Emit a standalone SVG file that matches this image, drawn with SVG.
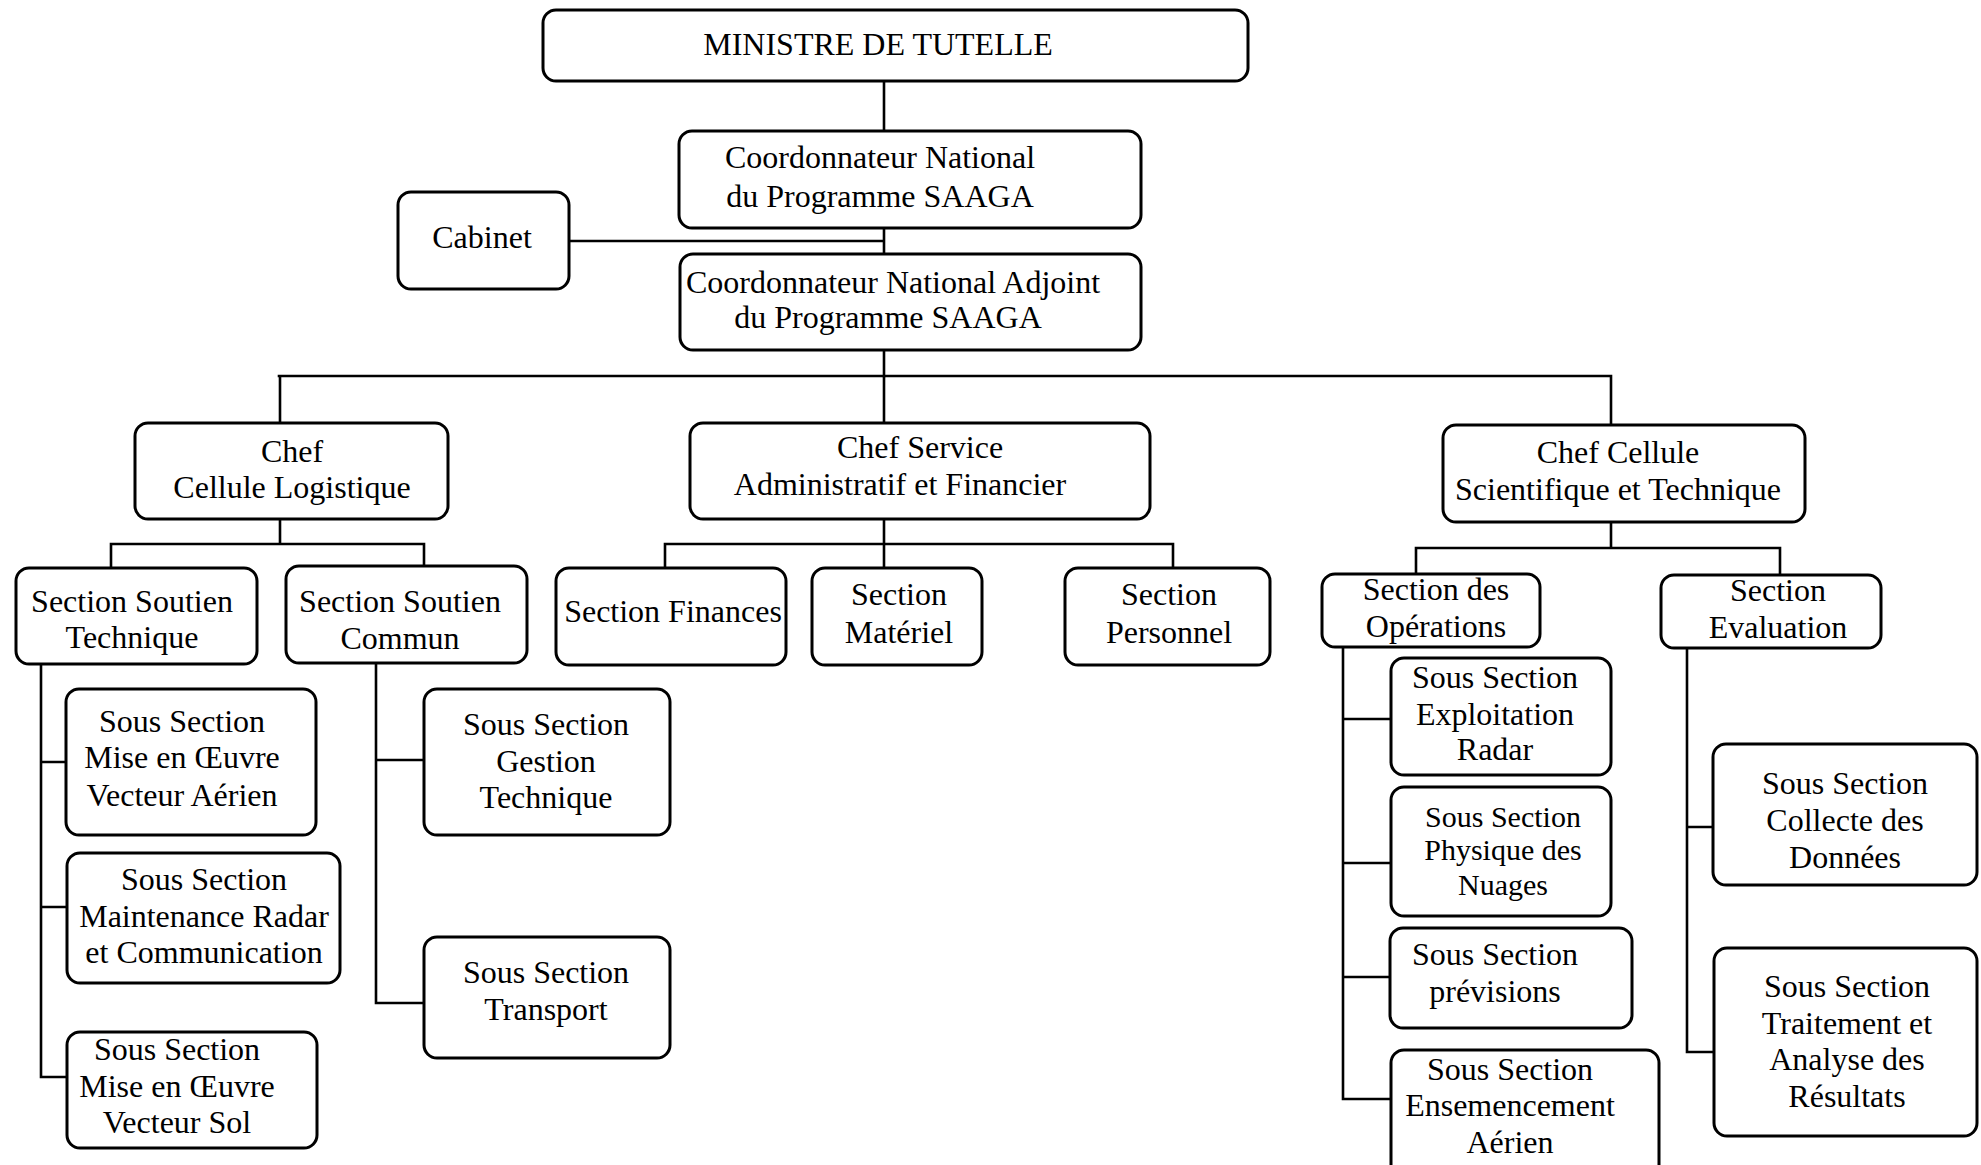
<svg xmlns="http://www.w3.org/2000/svg" width="1981" height="1165" viewBox="0 0 1981 1165">
  <style>
    .box { fill: #fff; stroke: #000; stroke-width: 3; }
    .ln { fill: none; stroke: #000; stroke-width: 2.6; stroke-linecap: square; }
    text { font-family: "Liberation Serif", "Times New Roman", serif; font-size: 32px; fill: #000; text-anchor: middle; }
    .sm { font-size: 30px; }
  </style>
  <rect width="1981" height="1165" fill="#fff"/>

  <!-- connectors -->
  <g id="connectors">
    <path class="ln" d="M884 81 V131 M884 228 V254 M569 241 H884 M884 350 V376"/>
    <path class="ln" d="M279 376 H1611 M280 376 V423 M884 376 V423 M1611 376 V425"/>
    <!-- logistics branch -->
    <path class="ln" d="M280 519 V544 M111 544 H424 M111 544 V568 M424 544 V566"/>
    <path class="ln" d="M41 664 V1077 M41 762 H66 M41 907 H67 M41 1077 H67"/>
    <path class="ln" d="M376 663 V1003 M376 760 H424 M376 1003 H424"/>
    <!-- admin & finance branch -->
    <path class="ln" d="M884 519 V568 M665 544 H1173 M665 544 V568 M1173 544 V568"/>
    <!-- scientific & technical branch -->
    <path class="ln" d="M1611 522 V548 M1416 548 H1780 M1416 548 V574 M1780 548 V575"/>
    <path class="ln" d="M1343 647 V1099 M1343 719 H1391 M1343 863 H1391 M1343 977 H1390 M1343 1099 H1391"/>
    <path class="ln" d="M1687 648 V1052 M1687 827 H1713 M1687 1052 H1714"/>
  </g>

  <g id="ministre">
    <rect class="box" x="543" y="10" width="705" height="71" rx="13"/>
    <text x="878" y="55">MINISTRE DE TUTELLE</text>
  </g>
  <g id="coordonnateur">
    <rect class="box" x="679" y="131" width="462" height="97" rx="13"/>
    <text x="880" y="168">Coordonnateur National</text>
    <text x="880" y="207">du Programme SAAGA</text>
  </g>
  <g id="cabinet">
    <rect class="box" x="398" y="192" width="171" height="97" rx="13"/>
    <text x="482" y="248">Cabinet</text>
  </g>
  <g id="adjoint">
    <rect class="box" x="680" y="254" width="461" height="96" rx="13"/>
    <text x="893" y="293">Coordonnateur National Adjoint</text>
    <text x="888" y="328">du Programme SAAGA</text>
  </g>

  <g id="chef-logistique">
    <rect class="box" x="135" y="423" width="313" height="96" rx="13"/>
    <text x="292" y="462">Chef</text>
    <text x="292" y="498">Cellule Logistique</text>
  </g>
  <g id="chef-saf">
    <rect class="box" x="690" y="423" width="460" height="96" rx="13"/>
    <text x="920" y="458">Chef Service</text>
    <text x="900" y="495">Administratif et Financier</text>
  </g>
  <g id="chef-cst">
    <rect class="box" x="1443" y="425" width="362" height="97" rx="13"/>
    <text x="1618" y="463">Chef Cellule</text>
    <text x="1618" y="500">Scientifique et Technique</text>
  </g>

  <g id="section-soutien-technique">
    <rect class="box" x="16" y="568" width="241" height="96" rx="13"/>
    <text x="132" y="612">Section Soutien</text>
    <text x="132" y="648">Technique</text>
  </g>
  <g id="section-soutien-commun">
    <rect class="box" x="286" y="566" width="241" height="97" rx="13"/>
    <text x="400" y="612">Section Soutien</text>
    <text x="400" y="649">Commun</text>
  </g>
  <g id="section-finances">
    <rect class="box" x="556" y="568" width="230" height="97" rx="13"/>
    <text x="673" y="622">Section Finances</text>
  </g>
  <g id="section-materiel">
    <rect class="box" x="812" y="568" width="170" height="97" rx="13"/>
    <text x="899" y="605">Section</text>
    <text x="899" y="643">Matériel</text>
  </g>
  <g id="section-personnel">
    <rect class="box" x="1065" y="568" width="205" height="97" rx="13"/>
    <text x="1169" y="605">Section</text>
    <text x="1169" y="643">Personnel</text>
  </g>
  <g id="section-operations">
    <rect class="box" x="1322" y="574" width="218" height="73" rx="13"/>
    <text x="1436" y="600">Section des</text>
    <text x="1436" y="637">Opérations</text>
  </g>
  <g id="section-evaluation">
    <rect class="box" x="1661" y="575" width="220" height="73" rx="13"/>
    <text x="1778" y="601">Section</text>
    <text x="1778" y="638">Evaluation</text>
  </g>

  <g id="ss-vecteur-aerien">
    <rect class="box" x="66" y="689" width="250" height="146" rx="13"/>
    <text x="182" y="732">Sous Section</text>
    <text x="182" y="768">Mise en Œuvre</text>
    <text x="182" y="806">Vecteur Aérien</text>
  </g>
  <g id="ss-maintenance-radar">
    <rect class="box" x="67" y="853" width="273" height="130" rx="13"/>
    <text x="204" y="890">Sous Section</text>
    <text x="204" y="927">Maintenance Radar</text>
    <text x="204" y="963">et Communication</text>
  </g>
  <g id="ss-vecteur-sol">
    <rect class="box" x="67" y="1032" width="250" height="116" rx="13"/>
    <text x="177" y="1060">Sous Section</text>
    <text x="177" y="1097">Mise en Œuvre</text>
    <text x="177" y="1133">Vecteur Sol</text>
  </g>
  <g id="ss-gestion-technique">
    <rect class="box" x="424" y="689" width="246" height="146" rx="13"/>
    <text x="546" y="735">Sous Section</text>
    <text x="546" y="772">Gestion</text>
    <text x="546" y="808">Technique</text>
  </g>
  <g id="ss-transport">
    <rect class="box" x="424" y="937" width="246" height="121" rx="13"/>
    <text x="546" y="983">Sous Section</text>
    <text x="546" y="1020">Transport</text>
  </g>

  <g id="ss-exploitation-radar">
    <rect class="box" x="1391" y="658" width="220" height="117" rx="13"/>
    <text x="1495" y="688">Sous Section</text>
    <text x="1495" y="725">Exploitation</text>
    <text x="1495" y="760">Radar</text>
  </g>
  <g id="ss-physique-nuages">
    <rect class="box" x="1391" y="787" width="220" height="129" rx="13"/>
    <text class="sm" x="1503" y="827">Sous Section</text>
    <text class="sm" x="1503" y="860">Physique des</text>
    <text class="sm" x="1503" y="895">Nuages</text>
  </g>
  <g id="ss-previsions">
    <rect class="box" x="1390" y="928" width="242" height="100" rx="13"/>
    <text x="1495" y="965">Sous Section</text>
    <text x="1495" y="1002">prévisions</text>
  </g>
  <g id="ss-ensemencement">
    <rect class="box" x="1391" y="1050" width="268" height="130" rx="13"/>
    <text x="1510" y="1080">Sous Section</text>
    <text x="1510" y="1116">Ensemencement</text>
    <text x="1510" y="1153">Aérien</text>
  </g>

  <g id="ss-collecte">
    <rect class="box" x="1713" y="744" width="264" height="141" rx="13"/>
    <text x="1845" y="794">Sous Section</text>
    <text x="1845" y="831">Collecte des</text>
    <text x="1845" y="868">Données</text>
  </g>
  <g id="ss-traitement">
    <rect class="box" x="1714" y="948" width="263" height="188" rx="13"/>
    <text x="1847" y="997">Sous Section</text>
    <text x="1847" y="1034">Traitement et</text>
    <text x="1847" y="1070">Analyse des</text>
    <text x="1847" y="1107">Résultats</text>
  </g>
</svg>
